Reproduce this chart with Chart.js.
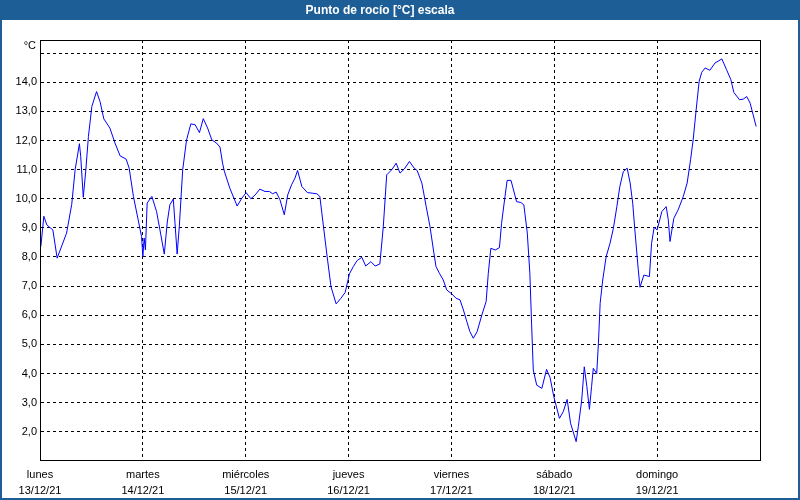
<!DOCTYPE html>
<html>
<head>
<meta charset="utf-8">
<script src="https://cdn.jsdelivr.net/npm/chart.js@4"></script>
<style>
  html, body { margin: 0; padding: 0; background: #fff; }
  #caja { width: 800px; height: 500px; position: relative; }
</style>
</head>
<body>
<div id="caja"><canvas id="grafico" width="800" height="500"></canvas></div>
<script>
// Horas desde lunes 13/12/21 00:00
const horas = [
  0.2, 0.9, 1.6, 3.0, 4.0, 6.2, 7.4, 8.2, 9.2, 9.5,
  10.1, 10.7, 11.3, 12.1, 13.2, 14.0, 14.9, 16.3, 17.5, 18.7,
  20.1, 20.8, 21.8, 22.9, 23.7, 24.0, 24.3, 24.6, 25.0, 26.1,
  27.2, 28.2, 29.0, 29.7, 30.3, 31.1, 31.5, 32.0, 32.5, 33.3,
  34.2, 35.2, 36.2, 37.2, 38.1, 39.1, 40.1, 41.2, 42.0, 42.6,
  43.0, 44.3, 46.0, 47.1, 48.1, 49.2, 50.2, 51.3, 52.5, 53.5,
  54.3, 55.1, 56.0, 57.0, 57.8, 58.7, 59.5, 60.1, 61.1, 62.4,
  63.6, 64.6, 65.3, 66.1, 67.0, 67.9, 69.1, 70.2, 71.2, 72.2,
  73.1, 74.0, 75.1, 76.0, 77.2, 78.2, 79.3, 80.1, 80.9, 82.1,
  83.1, 84.0, 85.0, 86.2, 87.3, 88.0, 89.1, 90.1, 91.0, 91.8,
  92.4, 93.2, 94.1, 94.9, 96.1, 97.1, 98.0, 98.8, 99.6, 100.3,
  101.1, 102.0, 103.1, 104.1, 104.6, 105.2, 106.2, 107.2, 107.7, 108.5,
  109.0, 109.9, 111.2, 112.2, 112.9, 113.7, 114.3, 114.7, 115.1, 115.9,
  117.1, 118.2, 119.0, 119.9, 121.2, 122.1, 123.0, 123.8, 124.4, 125.1,
  125.6, 126.4, 127.0, 127.6, 128.2, 128.7, 129.1, 129.9, 130.3, 130.7,
  131.3, 132.1, 133.0, 133.8, 134.6, 135.3, 136.1, 137.0, 137.7, 138.3,
  138.8, 139.6, 140.0, 140.9, 142.2, 142.7, 143.3, 144.0, 145.1, 146.1,
  146.6, 147.0, 147.9, 148.9, 150.1, 151.0, 151.8, 152.4, 153.1, 153.8,
  154.4, 155.2, 156.3, 157.5, 159.1, 160.2, 161.2, 161.9, 163.2, 164.1,
  164.9, 165.7, 166.4, 167.1
];

// Punto de rocío en °C
const puntoRocio = [
  8.36, 9.4, 9.1, 8.93, 7.96, 8.82, 9.8, 11.0, 11.89, 11.45,
  10.05, 11.0, 12.14, 13.17, 13.68, 13.34, 12.74, 12.43, 11.91, 11.47,
  11.36, 11.05, 10.08, 9.28, 8.7, 8.01, 8.65, 8.24, 9.85, 10.08,
  9.56, 8.76, 8.1, 9.2, 9.79, 9.99, 9.16, 8.1, 9.04, 11.0,
  12.02, 12.57, 12.54, 12.27, 12.75, 12.43, 12.02, 11.91, 11.77, 11.22,
  10.95, 10.36, 9.75, 10.02, 10.21, 10.0, 10.13, 10.33, 10.25, 10.25,
  10.17, 10.23, 9.96, 9.45, 10.13, 10.48, 10.71, 10.97, 10.42, 10.21,
  10.19, 10.17, 10.08, 9.1, 8.01, 6.98, 6.39, 6.58, 6.78, 7.42,
  7.67, 7.88, 7.99, 7.69, 7.84, 7.69, 7.76, 9.04, 10.82, 11.0,
  11.22, 10.88, 11.02, 11.28, 11.05, 10.97, 10.54, 9.74, 9.04, 8.24,
  7.67, 7.44, 7.21, 6.87, 6.73, 6.58, 6.53, 6.18, 5.78, 5.44,
  5.21, 5.44, 6.01, 6.47, 7.44, 8.3, 8.24, 8.32, 9.16, 10.08,
  10.63, 10.63, 9.9, 9.87, 9.79, 8.82, 7.44, 5.73, 4.12, 3.6,
  3.49, 4.14, 3.87, 3.2, 2.46, 2.69, 3.11, 2.29, 2.0, 1.66,
  2.17, 3.09, 4.23, 3.55, 2.77, 3.55, 4.18, 4.0, 5.04, 6.41,
  7.21, 8.01, 8.47, 8.99, 9.73, 10.42, 10.93, 11.05, 10.54, 9.85,
  8.93, 7.56, 6.96, 7.38, 7.33, 8.47, 9.02, 8.93, 9.56, 9.73,
  9.28, 8.53, 9.33, 9.62, 10.08, 10.54, 11.34, 12.02, 13.05, 14.03,
  14.34, 14.49, 14.41, 14.66, 14.8, 14.43, 14.09, 13.65, 13.4, 13.42,
  13.51, 13.28, 12.88, 12.48
];

const diasSemana = ['lunes', 'martes', 'miércoles', 'jueves', 'viernes', 'sábado', 'domingo'];
const fechas = ['13/12/21', '14/12/21', '15/12/21', '16/12/21', '17/12/21', '18/12/21', '19/12/21'];
const ticksY = [2, 3, 4, 5, 6, 7, 8, 9, 10, 11, 12, 13, 14, 15];

const azulVentana = '#1d5e96';
const fuente = 'Liberation Sans, Arial, sans-serif';

// Fondo, barra azul del título, marco del gráfico y unidad
const marco = {
  id: 'marco',
  beforeDraw(chart) {
    const c = chart.ctx;
    c.save();
    c.fillStyle = '#ffffff';
    c.fillRect(0, 0, chart.width, chart.height);
    c.fillStyle = azulVentana;
    c.fillRect(0, 0, chart.width, 20);
    c.restore();
  },
  afterDraw(chart) {
    const c = chart.ctx;
    const a = chart.chartArea;
    c.save();
    c.strokeStyle = '#000';
    c.lineWidth = 1;
    c.strokeRect(Math.round(a.left) + 0.5, Math.round(a.top) + 0.5,
      Math.round(a.right - a.left), Math.round(a.bottom - a.top));
    c.fillStyle = '#000';
    c.font = '11px ' + fuente;
    c.textAlign = 'right';
    c.textBaseline = 'middle';
    c.fillText('°C', 36, 46);
    c.strokeStyle = azulVentana;
    c.lineWidth = 2;
    c.strokeRect(1, 1, chart.width - 2, chart.height - 2);
    c.restore();
  }
};

const ctx = document.getElementById('grafico').getContext('2d');
new Chart(ctx, {
  type: 'line',
  data: {
    datasets: [{
      label: 'Punto de rocío',
      data: horas.map((h, i) => ({ x: h, y: puntoRocio[i] })),
      borderColor: '#0000ff',
      borderWidth: 1,
      pointRadius: 0,
      tension: 0,
      fill: false
    }]
  },
  options: {
    responsive: false,
    animation: false,
    devicePixelRatio: 1,
    layout: { padding: { left: 0, right: 40, top: 0, bottom: 0 } },
    plugins: {
      legend: { display: false },
      tooltip: { enabled: false },
      title: {
        display: true,
        text: 'Punto de rocío [°C] escala',
        color: '#ffffff',
        font: { family: fuente, size: 12, weight: 'bold' },
        padding: { top: 3, bottom: 22.6 }
      }
    },
    scales: {
      x: {
        type: 'linear',
        min: 0,
        max: 168,
        ticks: {
          stepSize: 24,
          color: '#000',
          padding: 7,
          maxRotation: 0,
          autoSkip: false,
          font: { family: fuente, size: 11, lineHeight: 1.45 },
          callback(v) {
            const i = Math.round(v / 24);
            if (i >= diasSemana.length) return null;
            return [diasSemana[i], fechas[i]];
          }
        },
        grid: { color: '#000', lineWidth: 1, drawTicks: false },
        border: { display: true, color: '#000', width: 1, dash: [3, 3] },
        afterFit(scale) { scale.height = 40; }
      },
      y: {
        min: 1.03,
        max: 15.45,
        afterBuildTicks(scale) {
          scale.ticks = ticksY.map(v => ({ value: v }));
        },
        ticks: {
          color: '#000',
          padding: 3,
          font: { family: fuente, size: 11 },
          callback(v) {
            if (v === 15) return '';
            return v.toFixed(1).replace('.', ',');
          }
        },
        grid: { color: '#000', lineWidth: 1, drawTicks: false },
        border: { display: true, color: '#000', width: 1, dash: [3, 3] },
        afterFit(scale) { scale.width = 40; }
      }
    }
  },
  plugins: [marco]
});
</script>
</body>
</html>
